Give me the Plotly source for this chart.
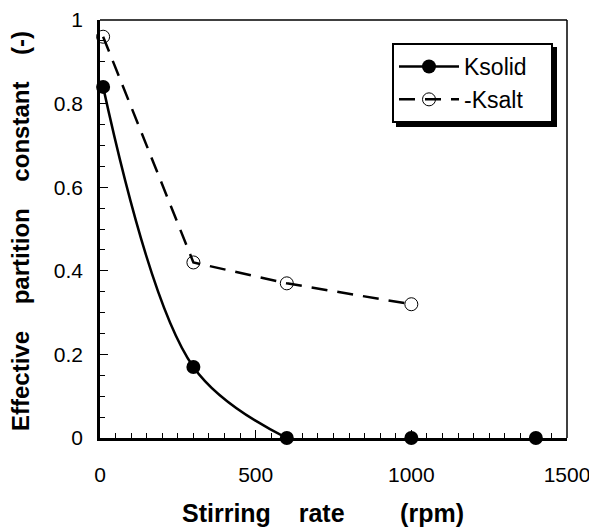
import plotly.graph_objects as go

# Data
rpm_solid = [10, 300, 600, 1000, 1400]
k_solid = [0.84, 0.17, 0.0, 0.0, 0.0]
rpm_salt = [10, 300, 600, 1000]
k_salt = [0.96, 0.42, 0.37, 0.32]
x_ticks = [0, 500, 1000, 1500]
y_ticks = [0, 0.2, 0.4, 0.6, 0.8, 1]
x_title = "Stirring\u00a0\u00a0\u00a0\u00a0rate\u00a0\u00a0\u00a0\u00a0\u00a0\u00a0\u00a0\u00a0(rpm)"
y_title = "Effective\u00a0\u00a0\u00a0\u00a0partition\u00a0\u00a0\u00a0\u00a0constant\u00a0\u00a0\u00a0\u00a0(-)"

FONT = "Liberation Sans, Arial, Helvetica, sans-serif"
NB = "\u00a0"

# plot area in page pixels: x 100..567, y 20..438
PW, PH = 467, 418
def px(x):
    return (x - 100) / PW
def py(y):
    return (438 - y) / PH

fig = go.Figure()

# Ksolid: smooth fitted curve through the first points, markers only afterwards
fig.add_trace(go.Scatter(
    x=rpm_solid[:3], y=k_solid[:3], mode="lines+markers", name="Ksolid" + NB * 3,
    line=dict(color="black", width=2.5, shape="spline"),
    marker=dict(symbol="circle", size=14, color="black"),
    cliponaxis=False,
))
fig.add_trace(go.Scatter(
    x=rpm_solid[3:], y=k_solid[3:], mode="markers", showlegend=False,
    marker=dict(symbol="circle", size=14, color="black"),
    cliponaxis=False,
))
fig.add_trace(go.Scatter(
    x=rpm_salt, y=k_salt, mode="lines+markers", name="-Ksalt",
    line=dict(color="black", width=2.5, dash="16px,10px"),
    marker=dict(symbol="circle-open", size=13, color="black", line=dict(width=1)),
    cliponaxis=False,
))

# legend shadow
fig.add_shape(type="rect", xref="paper", yref="paper",
              x0=px(396), x1=px(557), y0=py(127), y1=py(47),
              fillcolor="black", line=dict(width=0), layer="above")

# thin top / right frame lines
fig.add_shape(type="line", xref="x domain", yref="y domain", x0=0, x1=1, y0=1, y1=1,
              line=dict(color="black", width=1.5))
fig.add_shape(type="line", xref="x domain", yref="y domain", x0=1, x1=1, y0=0, y1=1,
              line=dict(color="black", width=1.5))

# axis titles
fig.add_annotation(text=x_title, xref="paper", yref="paper", x=px(323), y=py(513),
                   xanchor="center", yanchor="middle", showarrow=False,
                   font=dict(size=25, family=FONT, weight="bold", color="black"))
fig.add_annotation(text=y_title, xref="paper", yref="paper", x=px(20), y=py(231),
                   xanchor="center", yanchor="middle", showarrow=False, textangle=-90,
                   font=dict(size=24, family=FONT, weight="bold", color="black"))

fig.update_layout(
    width=597, height=530,
    margin=dict(l=92, r=38, t=12, b=100, autoexpand=False),
    paper_bgcolor="white", plot_bgcolor="white",
    font=dict(family=FONT, color="black", size=21),
    showlegend=True,
    legend=dict(
        x=px(392), y=py(43), xanchor="left", yanchor="top",
        bgcolor="white", bordercolor="black", borderwidth=2,
        font=dict(family=FONT, size=23, color="black"),
        itemwidth=60, tracegroupgap=0,
    ),
    xaxis=dict(
        range=[0, 1500], tickvals=x_ticks, ticktext=[str(v) for v in x_ticks],
        showgrid=False, zeroline=False, automargin=False,
        showline=True, linecolor="black", linewidth=2.5,
        ticks="inside", ticklen=8, tickwidth=1.2, tickcolor="black",
        minor=dict(dtick=50, ticks="inside", ticklen=5, tickwidth=1, tickcolor="black"),
        ticklabelstandoff=16,
        tickfont=dict(size=21),
    ),
    yaxis=dict(
        range=[0, 1], tickvals=y_ticks, ticktext=["0", "0.2", "0.4", "0.6", "0.8", "1"],
        showgrid=False, zeroline=False, automargin=False,
        showline=True, linecolor="black", linewidth=2.5,
        ticks="inside", ticklen=8, tickwidth=1.2, tickcolor="black",
        minor=dict(dtick=0.05, ticks="inside", ticklen=5, tickwidth=1, tickcolor="black"),
        ticklabelstandoff=10,
        tickfont=dict(size=21),
    ),
)

fig.write_html("out.html")
